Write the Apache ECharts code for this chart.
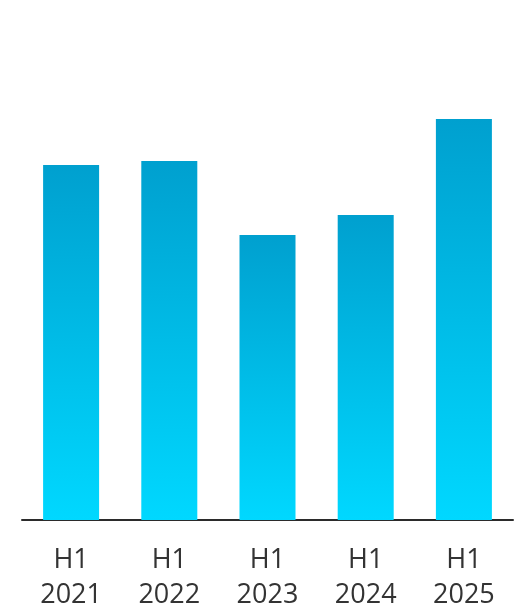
<!DOCTYPE html>
<html>
<head>
<meta charset="utf-8">
<style>
  html, body { margin: 0; padding: 0; background: #fff; }
  #chart { width: 528px; height: 607px; }
</style>
<script src="https://cdn.jsdelivr.net/npm/echarts@6/dist/echarts.min.js"></script>
</head>
<body>
<div id="chart"></div>
<script>
// Half-year periods and their values
const periods = ['H1\n2021', 'H1\n2022', 'H1\n2023', 'H1\n2024', 'H1\n2025'];
const values = [355, 359, 285, 305, 401];

const chart = echarts.init(document.getElementById('chart'));
chart.setOption({
  animation: false,
  grid: { left: 22, right: 15, top: 0, bottom: 87, containLabel: false, outerBoundsMode: 'none' },
  xAxis: {
    type: 'category',
    data: periods,
    axisLine: { lineStyle: { color: '#2b2b2b', width: 2 } },
    axisTick: { show: false },
    axisLabel: {
      color: '#333333',
      fontFamily: 'Open Sans',
      fontSize: 27,
      lineHeight: 35,
      margin: 23
    }
  },
  yAxis: {
    type: 'value',
    min: 0,
    max: 520,
    show: false,
    splitLine: { show: false }
  },
  series: [{
    type: 'bar',
    data: values,
    barWidth: 56,
    itemStyle: {
      color: new echarts.graphic.LinearGradient(0, 0, 0, 1, [
        { offset: 0, color: '#00a0cf' },
        { offset: 1, color: '#00d8ff' }
      ])
    }
  }]
});
</script>
</body>
</html>
